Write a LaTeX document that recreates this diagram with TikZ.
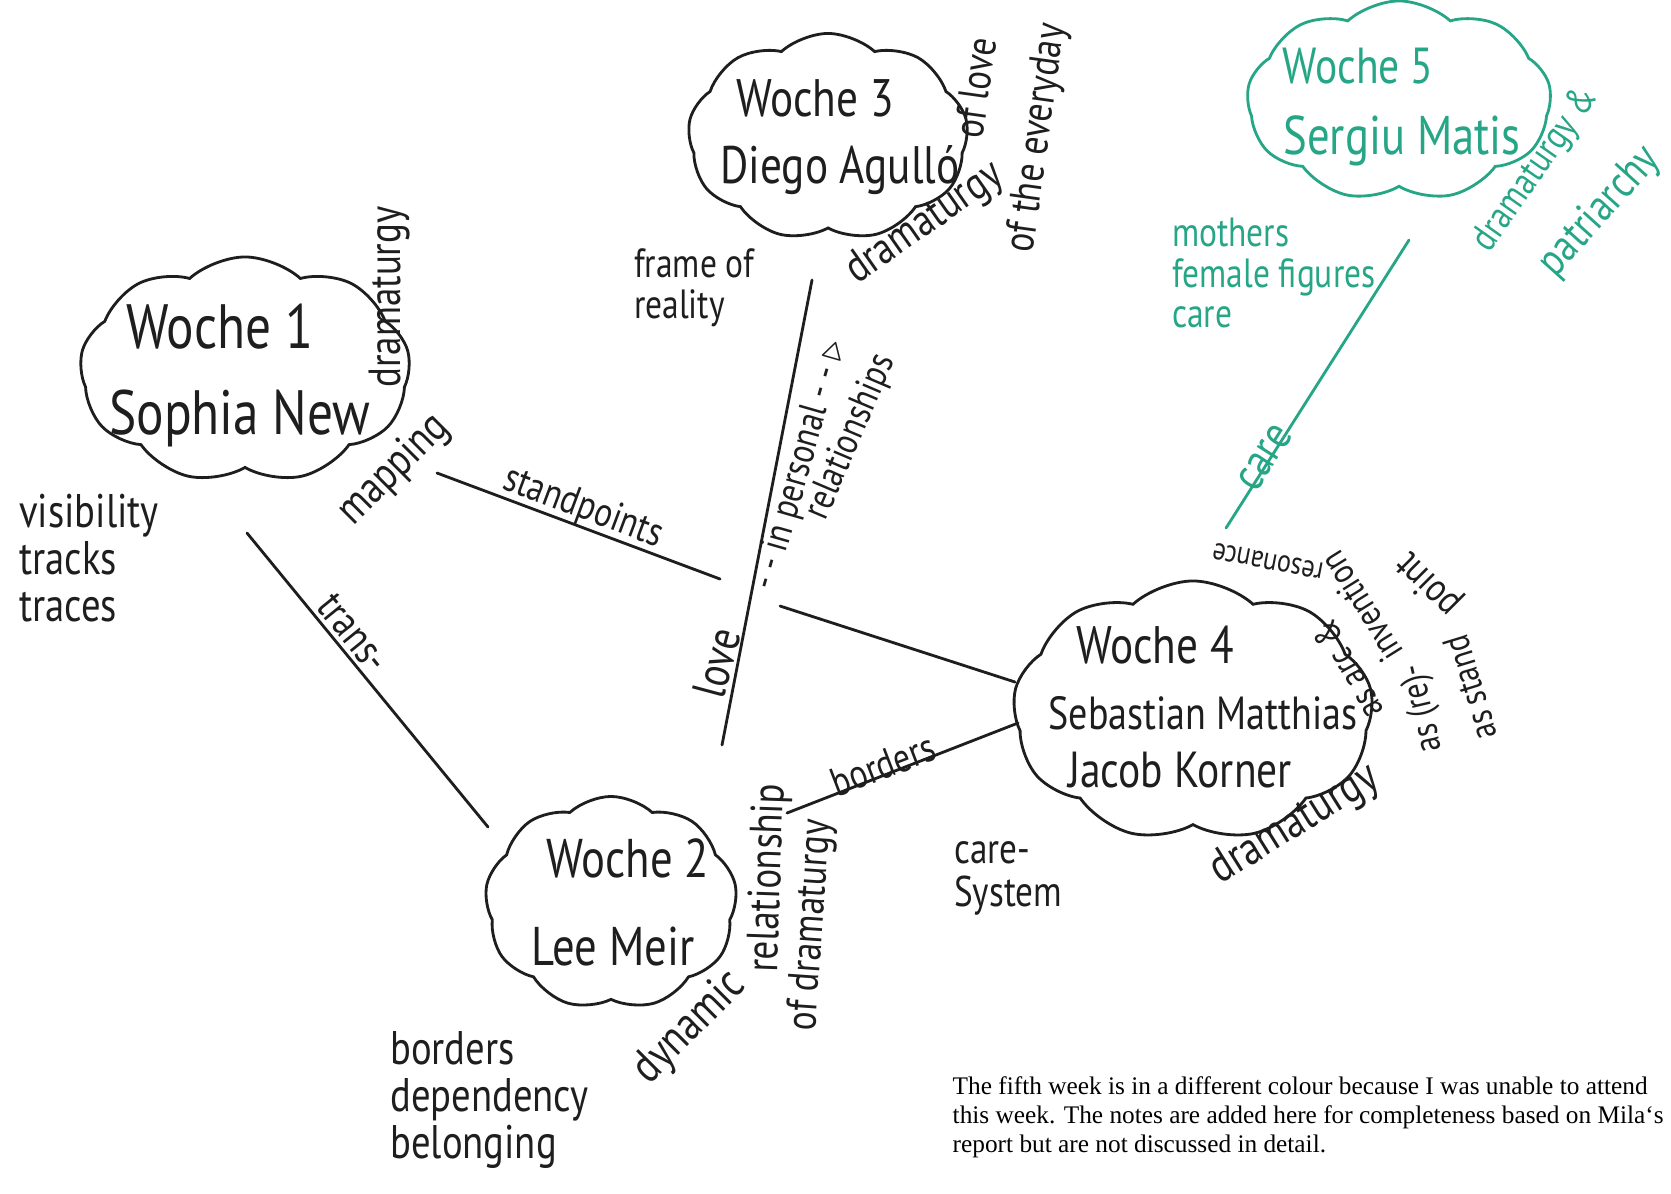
\documentclass[tikz,border=0pt]{standalone}
\usepackage{fontspec}
\newfontfamily\handfont[FakeStretch=0.82]{PT Sans}
\newfontfamily\notefont{Liberation Serif}
\usetikzlibrary{shapes.symbols}
\definecolor{ink}{RGB}{30,30,30}
\definecolor{mygreen}{RGB}{38,166,134}
\tikzset{
  week/.style={cloud, cloud puffs=9, cloud puff arc=85, cloud ignores aspect, draw=ink, line width=0.8pt, inner sep=0pt},
  wtitle/.style={font=\handfont\fontsize{#1}{#1}\selectfont, text=ink, inner sep=0pt},
  hand/.style={font=\handfont\fontsize{#1}{#1}\selectfont, text=ink, inner sep=1pt},
  hand/.default=13,
  handlist/.style={hand=#1, align=left, anchor=west},
  link/.style={draw=ink, line width=0.8pt, line cap=round},
}
\begin{document}
\begin{tikzpicture}[x=0.01cm, y=-0.01cm]
\fill[white] (0,0) rectangle (1671,1193);
\useasboundingbox (0,0) rectangle (1671,1193);
% the five weeks
\node[week, minimum width=3.3cm, minimum height=2.26cm] (w1) at (245,370) {};
\node[week, minimum width=2.52cm, minimum height=2.13cm] (w2) at (611,903) {};
\node[week, minimum width=2.8cm, minimum height=2.07cm] (w3) at (828,137) {};
\node[week, minimum width=3.6cm, minimum height=2.6cm] (w4) at (1193,711) {};
\node[week, draw=mygreen, minimum width=3.04cm, minimum height=2.0cm] (w5) at (1399,101) {};
\node[wtitle=17.8] (w1-t) at (220,327) {Woche 1};
\node[wtitle=17.8] (w1-n) at (240,418) {Sophia New};
\node[wtitle=15.5] (w2-t) at (628,858) {Woche 2};
\node[wtitle=15.5] (w2-n) at (613,946) {Lee Meir};
\node[wtitle=15] (w3-t) at (815,98) {Woche 3};
\node[wtitle=15] (w3-n) at (840,170) {Diego Agulló};
\node[wtitle=15] (w4-t) at (1155,645) {Woche 4};
\node[wtitle=13.2] (w4-n) at (1203,713) {Sebastian Matthias};
\node[wtitle=14.4] (w4-m) at (1180,770) {Jacob Korner};
\node[wtitle=14.4, text=mygreen] (w5-t) at (1358,66) {Woche 5};
\node[wtitle=15.5, text=mygreen] (w5-n) at (1402,141) {Sergiu Matis};
% connectors
\coordinate (sp1) at (437,473); \coordinate (sp2) at (720,579);
\coordinate (sp3) at (780,606); \coordinate (sp4) at (1015,682);
\coordinate (tr1) at (247,533); \coordinate (tr2) at (488,827);
\coordinate (lv1) at (812,280); \coordinate (lv2) at (722,745);
\coordinate (bo1) at (787,813); \coordinate (bo2) at (1018,723);
\coordinate (ca1) at (1409,240); \coordinate (ca2) at (1226,528);
\draw[link] (sp1) -- (sp2) (sp3) -- (sp4);
\draw[link] (tr1) -- (tr2);
\draw[link] (lv1) -- (lv2);
\draw[link] (bo1) -- (bo2);
\draw[link, draw=mygreen] (ca1) -- (ca2);
\node[hand=11.6, rotate=-20.5] (sp-l) at (583,508) {standpoints};
\node[hand=12.2, rotate=-51] (tr-l) at (353,633) {trans-};
\node[hand=13.4, rotate=75] (lv-l) at (717,663) {love};
\node[hand=11, rotate=74] (ip-l) at (801,465) {- - in personal - - $\triangleright$};
\node[hand=11, rotate=67] (rs-l) at (851,437) {relationships};
\node[hand=11.6, rotate=21] (bo-l) at (883,765) {borders};
\node[hand=13.4, rotate=57.5, text=mygreen] (ca-l) at (1265,458) {care};
% week 1
\node[hand=12.8, rotate=90] (w1-d) at (390,297) {dramaturgy};
\node[hand=12.8, rotate=45] (w1-m) at (394,470) {mapping};
\node[handlist=13.4] (w1-x) at (15,558) {visibility\\tracks\\traces};
% week 2
\node[hand=13.4, rotate=45] (w2-d) at (690,1028) {dynamic};
\node[hand=12.8, rotate=88] (w2-r) at (769,878) {relationship};
\node[hand=12.2, rotate=86] (w2-o) at (812,925) {of dramaturgy};
\node[handlist=13.4] (w2-x) at (386,1100) {borders\\dependency\\belonging};
% week 3
\node[hand=12.8, rotate=35] (w3-d) at (925,224) {dramaturgy};
\node[hand=12, rotate=82] (w3-o) at (975,88) {of love};
\node[hand=12.2, rotate=82] (w3-e) at (1038,138) {of the everyday};
\node[handlist=11.6] (w3-x) at (630,288) {frame of\\reality};
% week 4
\node[hand=13.4, rotate=32] (w4-d) at (1295,825) {dramaturgy};
\node[hand=10.5, rotate=119] (w4-a) at (1347,670) {as arc \&};
\node[hand=9, rotate=169] (w4-r) at (1268,561) {resonance};
\node[hand=10.5, rotate=103] (w4-b) at (1423,708) {as (re)-};
\node[hand=10.5, rotate=122] (w4-i) at (1361,607) {invention};
\node[hand=10.5, rotate=107] (w4-c) at (1470,688) {as stand};
\node[hand=11.5, rotate=135] (w4-p) at (1429,584) {point};
\node[handlist=12.2] (w4-x) at (950,878) {care-\\System};
% week 5
\node[hand=11, rotate=55, text=mygreen] (w5-d) at (1536,170) {dramaturgy \&};
\node[hand=12.8, rotate=48, text=mygreen] (w5-p) at (1600,212) {patriarchy};
\node[handlist=11.6, text=mygreen] (w5-x) at (1168,273) {mothers\\female figures\\care};
% note
\node[font=\notefont\fontsize{7.2}{8.2}\selectfont, align=left, anchor=north west, inner sep=0pt] (note) at (952,1076)
  {The fifth week is in a different colour because I was unable to attend\\
   this week. The notes are added here for completeness based on Mila‘s\\
   report but are not discussed in detail.};
\end{tikzpicture}
\end{document}
